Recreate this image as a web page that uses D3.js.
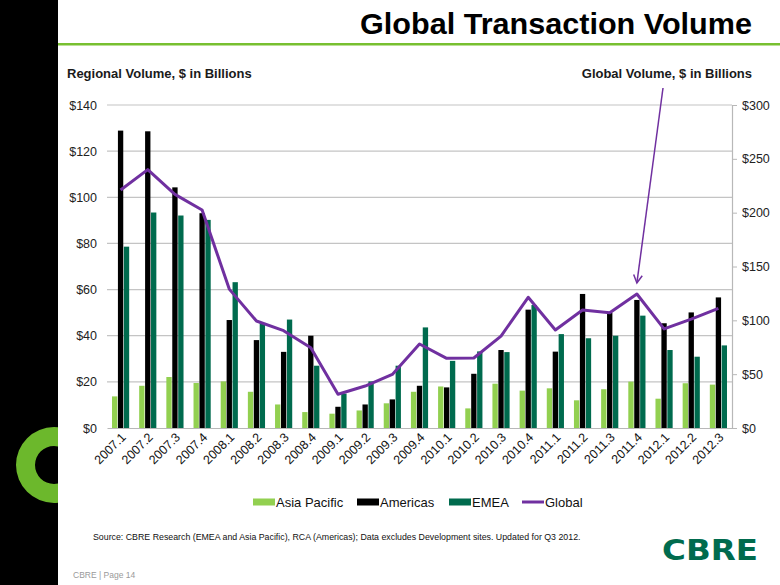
<!DOCTYPE html>
<html>
<head>
<meta charset="utf-8">
<script src="https://cdn.jsdelivr.net/npm/d3@7"></script>
<style>
  html, body { margin: 0; padding: 0; background: #fff; }
  svg { display: block; font-family: "Liberation Sans", Arial, sans-serif; }
</style>
</head>
<body>
<svg id="chart" width="780" height="585"></svg>
<script>
// ---------- data ----------
const quarters = ["2007.1","2007.2","2007.3","2007.4","2008.1","2008.2","2008.3","2008.4",
  "2009.1","2009.2","2009.3","2009.4","2010.1","2010.2","2010.3","2010.4",
  "2011.1","2011.2","2011.3","2011.4","2012.1","2012.2","2012.3"];
const seriesNames = ["Asia Pacific", "Americas", "EMEA"];
const asiaPacific = [13.7,18.3,22.1,19.5,20.2,15.7,10.2,6.9,6.2,7.6,10.7,15.7,18.0,8.5,19.2,16.2,17.2,12.0,16.8,20.1,12.7,19.4,18.8];
const americas    = [128.9,128.6,104.3,93.1,46.8,38.1,33.0,40.0,9.2,10.2,12.4,18.3,17.6,23.5,33.8,51.3,33.1,58.1,50.0,55.5,45.4,50.1,56.6];
const emea        = [78.6,93.4,92.1,90.2,63.2,45.5,47.0,27.0,14.9,20.2,27.0,43.6,29.1,33.2,32.9,53.3,40.7,38.9,40.0,48.7,33.8,30.9,35.8];
const globalVol   = [221,240,217,202.5,129,99.4,90.4,74.6,31.3,39,49.8,78,64.7,65,85.4,121.4,91,109.6,107,124.5,92,101.2,111.2];
const leftTicks  = [0,20,40,60,80,100,120,140];
const rightTicks = [0,50,100,150,200,250,300];
const legendItems = ["Asia Pacific","Americas","EMEA","Global"];

const colors = { "Asia Pacific": "#92d050", "Americas": "#000000", "EMEA": "#006b4e", "Global": "#7030a0" };
const seriesData = { "Asia Pacific": asiaPacific, "Americas": americas, "EMEA": emea };

// ---------- layout ----------
const svg = d3.select("#chart");
const plot = { left: 107, right: 732, top: 105, bottom: 428 };

// slide decoration
svg.append("rect").attr("x",0).attr("y",0).attr("width",58).attr("height",585).attr("fill","#000");
svg.append("defs").append("clipPath").attr("id","ringclip")
  .append("rect").attr("x",0).attr("y",0).attr("width",58).attr("height",585);
svg.append("g").attr("clip-path","url(#ringclip)")
  .append("path")
  .attr("d", d3.arc().innerRadius(19).outerRadius(38).startAngle(0).endAngle(2*Math.PI)())
  .attr("transform","translate(54,465)")
  .attr("fill","#6cb82c");
svg.append("rect").attr("x",58).attr("y",43).attr("width",722).attr("height",2.5).attr("fill","#78c030");

svg.append("text").attr("x",752).attr("y",34).attr("text-anchor","end")
  .attr("font-size",30).attr("font-weight","bold").attr("fill","#000")
  .attr("textLength",392).attr("lengthAdjust","spacingAndGlyphs")
  .text("Global Transaction Volume");
svg.append("text").attr("x",67).attr("y",78)
  .attr("font-size",13).attr("font-weight","bold").attr("fill","#1a1a1a")
  .text("Regional Volume, $ in Billions");
svg.append("text").attr("x",752).attr("y",78).attr("text-anchor","end")
  .attr("font-size",13).attr("font-weight","bold").attr("fill","#1a1a1a")
  .text("Global Volume, $ in Billions");

// ---------- scales ----------
const x = d3.scaleBand().domain(quarters).range([plot.left, plot.right]).padding(0);
const x1 = d3.scaleBand().domain(seriesNames).range([5, x.bandwidth() - 5]).paddingInner(0.1);
const yL = d3.scaleLinear().domain([0,140]).range([plot.bottom, plot.top]);
const yR = d3.scaleLinear().domain([0,300]).range([plot.bottom, plot.top]);

// gridlines
svg.append("g").selectAll("line").data(leftTicks.filter(d => d > 0)).join("line")
  .attr("x1", plot.left).attr("x2", plot.right)
  .attr("y1", d => yL(d)).attr("y2", d => yL(d))
  .attr("stroke", "#c4c4c4").attr("stroke-width", 1.2);

// left axis labels
const axL = svg.append("g").attr("transform", `translate(${plot.left},0)`)
  .call(d3.axisLeft(yL).tickValues(leftTicks).tickFormat(d => "$" + d).tickSize(0).tickPadding(10));
axL.select(".domain").remove();
axL.selectAll("text").attr("font-size", 12.5).attr("fill", "#222").attr("font-family", "Liberation Sans, Arial, sans-serif");

// bars
const groups = svg.append("g").selectAll("g").data(quarters).join("g")
  .attr("transform", d => `translate(${x(d)},0)`);
groups.selectAll("rect")
  .data((q, i) => seriesNames.map(s => ({ s, v: seriesData[s][i] })))
  .join("rect")
  .attr("x", d => x1(d.s)).attr("width", x1.bandwidth())
  .attr("y", d => yL(d.v)).attr("height", d => yL(0) - yL(d.v))
  .attr("fill", d => colors[d.s]);

// x axis
const axB = svg.append("g").attr("transform", `translate(0,${plot.bottom})`)
  .call(d3.axisBottom(x).tickSize(0).tickPadding(0));
axB.select(".domain").attr("stroke", "#b8b8b8").attr("stroke-width", 1.2);
axB.selectAll("text")
  .attr("font-size", 12.5).attr("fill", "#111").attr("font-family", "Liberation Sans, Arial, sans-serif")
  .attr("text-anchor", "end").attr("dy", null).attr("y", 0)
  .attr("transform", "translate(6,10) rotate(-45)");

// right axis
const axR = svg.append("g").attr("transform", `translate(${plot.right},0)`)
  .call(d3.axisRight(yR).tickValues(rightTicks).tickFormat(d => "$" + d).tickSize(5).tickPadding(5));
axR.select(".domain").attr("stroke", "#b8b8b8").attr("stroke-width", 1.2);
axR.selectAll("line").attr("stroke", "#b8b8b8");
axR.selectAll("text").attr("font-size", 12.5).attr("fill", "#222").attr("font-family", "Liberation Sans, Arial, sans-serif");

// global line
const line = d3.line().x((d, i) => x(quarters[i]) + x.bandwidth() / 2).y(d => yR(d));
svg.append("path").datum(globalVol).attr("d", line)
  .attr("fill", "none").attr("stroke", colors.Global).attr("stroke-width", 3).attr("stroke-linejoin", "round");

// annotation arrow
const arrowTip = [x("2011.4") + x.bandwidth() / 2, yR(globalVol[19]) - 11];
const arrowStart = [663, 88];
svg.append("line").attr("x1", arrowStart[0]).attr("y1", arrowStart[1]).attr("x2", arrowTip[0]).attr("y2", arrowTip[1])
  .attr("stroke", colors.Global).attr("stroke-width", 1.5);
const ang = Math.atan2(arrowTip[1] - arrowStart[1], arrowTip[0] - arrowStart[0]);
const ah = 9;
const p1 = [arrowTip[0] - ah * Math.cos(ang - 0.5), arrowTip[1] - ah * Math.sin(ang - 0.5)];
const p2 = [arrowTip[0] - ah * Math.cos(ang + 0.5), arrowTip[1] - ah * Math.sin(ang + 0.5)];
svg.append("path").attr("d", `M${p1}L${arrowTip}L${p2}`).attr("fill", "none")
  .attr("stroke", colors.Global).attr("stroke-width", 1.5);

// legend
const legendX = [253, 357, 449, 522];
const lg = svg.append("g").selectAll("g").data(legendItems).join("g")
  .attr("transform", (d, i) => `translate(${legendX[i]},502)`);
lg.each(function (d) {
  const g = d3.select(this);
  if (d === "Global") {
    g.append("line").attr("x1", 0).attr("x2", 22).attr("y1", 0).attr("y2", 0)
      .attr("stroke", colors[d]).attr("stroke-width", 3);
  } else {
    g.append("rect").attr("x", 0).attr("y", -3.5).attr("width", 22).attr("height", 7).attr("fill", colors[d]);
  }
  g.append("text").attr("x", 23).attr("y", 4.5).attr("font-size", 13).attr("fill", "#111").text(d);
});

// footer
svg.append("text").attr("x", 93).attr("y", 540).attr("font-size", 8.8).attr("fill", "#111")
  .text("Source: CBRE Research (EMEA and Asia Pacific), RCA (Americas); Data excludes Development sites. Updated for Q3 2012.");
svg.append("text").attr("x", 73).attr("y", 578).attr("font-size", 8.5).attr("fill", "#9a9a9a")
  .text("CBRE  |  Page 14");
svg.append("text").attr("x", 662).attr("y", 560).attr("font-size", 29).attr("font-weight", "bold")
  .attr("font-family", "DejaVu Sans, sans-serif").attr("fill", "#006b4e")
  .attr("textLength", 96).attr("lengthAdjust", "spacingAndGlyphs").text("CBRE");
</script>
</body>
</html>
